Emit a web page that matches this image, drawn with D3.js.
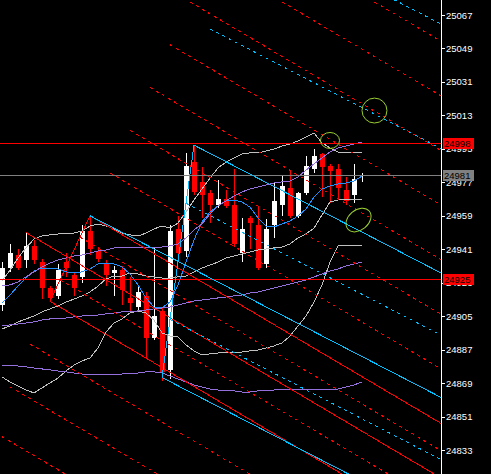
<!DOCTYPE html>
<html><head><meta charset="utf-8">
<script src="https://cdn.jsdelivr.net/npm/d3@7"></script>
<style>html,body{margin:0;padding:0;background:#000;}svg{display:block;}</style>
</head><body><div id="chart"></div>
<script>
// ---------- DATA ----------
const openP  = [24911,24931,24938,24935,24943,24934,24920,24916,24934,24927,24926,24951,24940,24933,24928,24930,24915,24910,24916,24893,24908,24876,24952,24940,24988,24977,24971,24965,24968,24965,24939,24958,24954,24933,24954,24965,24974,24959,24971,24984,24992,24986,24984,24973,24970,24981];
const highP  = [24934,24944,24941,24950,24946,24936,24921,24933,24939,24929,24954,24959,24942,24935,24932,24932,24926,24921,24918,24942,24910,24954,24959,24993,24997,24985,24973,24978,24973,24984,24958,24959,24964,24957,24977,24981,24983,24972,24991,24995,24993,24987,24987,24980,24987,24982];
const lowP   = [24908,24929,24930,24931,24933,24914,24913,24914,24926,24916,24923,24938,24934,24921,24916,24911,24908,24907,24882,24892,24870,24871,24936,24937,24970,24958,24955,24963,24963,24942,24934,24941,24930,24931,24947,24959,24958,24958,24970,24982,24969,24966,24968,24965,24966,24977];
const closeP = [24931,24939,24931,24943,24935,24920,24915,24930,24931,24920,24951,24941,24936,24927,24930,24919,24912,24918,24893,24905,24875,24951,24939,24986,24972,24970,24965,24968,24964,24944,24952,24955,24931,24952,24967,24975,24959,24971,24986,24991,24985,24983,24974,24967,24979,24981];

// blue moving average
const maBlue = [24912.1,24916.4,24921.2,24925.5,24929.3,24930.9,24930.9,24930.4,24928.8,24928.2,24928.8,24930.4,24933.1,24933.6,24933.1,24931.5,24927.7,24921.8,24914.8,24909.9,24909.4,24912.6,24921.8,24934.1,24946.0,24955.7,24961.0,24964.3,24967.0,24967.5,24966.4,24963.7,24957.8,24953.5,24953.0,24954.6,24956.2,24958.9,24962.7,24969.1,24973.4,24975.0,24976.1,24976.6,24977.7,24980.4];
// gray Bollinger band (upper / middle / lower)
const bbUpper = [24923.9,24929.8,24936.3,24941.7,24946.5,24948.1,24948.7,24949.2,24949.7,24949.7,24950.8,24953.5,24954.6,24953.5,24951.9,24949.7,24948.7,24948.1,24949.7,24951.9,24953.5,24952.4,24955.1,24961.0,24967.5,24973.4,24979.3,24984.7,24987.9,24990.1,24992.2,24992.8,24992.8,24993.9,24994.9,24996.5,24997.6,24999.2,25001.4,25003.5,24998.2,24995.5,24993.3,24992.8,24992.8,24992.8];
const bbMiddle = [24898.1,24899.7,24901.9,24903.5,24905.1,24907.3,24908.9,24910.5,24912.6,24914.2,24915.9,24918.0,24921.2,24925.0,24926.6,24926.6,24928.2,24927.7,24926.6,24926.1,24925.5,24925.5,24926.1,24926.6,24928.8,24930.9,24932.5,24934.1,24936.3,24937.4,24938.4,24939.5,24940.6,24941.1,24941.7,24942.2,24943.8,24947.1,24949.2,24952.4,24959.4,24966.4,24967.5,24968.0,24968.0,24968.0];
const bbLower = [24872.3,24869.6,24867.4,24865.3,24863.7,24866.4,24869.1,24871.7,24875.5,24878.7,24880.9,24882.5,24887.9,24896.5,24901.3,24903.5,24906.7,24907.8,24906.7,24902.9,24896.0,24894.3,24893.8,24889.5,24886.3,24884.1,24884.7,24885.2,24885.2,24885.7,24885.7,24886.3,24886.8,24887.9,24889.0,24890.6,24894.3,24899.7,24905.1,24912.6,24921.8,24934.1,24942.8,24942.8,24942.8,24942.8];
// purple Bollinger band (upper / middle / lower)
const purpleUpper = [24921.2,24921.8,24923.4,24926.1,24928.8,24931.5,24933.6,24935.2,24936.3,24937.4,24937.9,24939.0,24940.1,24940.6,24941.7,24941.7,24941.7,24942.2,24942.2,24942.2,24942.2,24942.8,24943.8,24947.1,24951.4,24954.6,24960.0,24964.3,24967.0,24969.6,24971.8,24973.4,24974.5,24975.6,24976.6,24977.2,24977.7,24979.9,24983.6,24986.9,24990.1,24993.3,24995.5,24996.5,24997.6,24998.7];
const purpleMid = [24899.7,24900.3,24900.8,24901.3,24901.9,24902.9,24903.5,24904.0,24904.0,24904.6,24905.1,24905.6,24905.6,24906.2,24906.7,24907.3,24907.3,24907.8,24908.3,24908.9,24909.4,24909.9,24911.0,24912.1,24913.2,24913.7,24914.2,24914.8,24915.3,24915.9,24916.4,24917.5,24918.0,24919.1,24920.1,24921.2,24922.3,24923.4,24924.5,24926.1,24927.7,24929.3,24930.4,24932.0,24933.1,24934.1];
const purpleLower = [24878.7,24878.2,24878.2,24877.7,24877.1,24876.6,24876.1,24875.5,24875.0,24874.4,24873.9,24873.4,24873.4,24873.4,24873.4,24873.9,24873.9,24874.4,24875.0,24875.0,24874.4,24872.8,24871.2,24869.6,24868.0,24866.9,24865.8,24865.3,24864.8,24864.8,24864.2,24864.2,24864.8,24864.8,24865.3,24865.3,24865.3,24865.3,24865.3,24865.3,24865.3,24865.3,24865.8,24866.9,24868.0,24869.6];

const tickValues = [25067,25049,25031,25013,24995,24977,24959,24941,24923,24905,24887,24869,24851,24833];
const levelPrices = [24998, 24981, 24925];
const levelNames  = ["red", "gray", "red"];

// Andrews pitchforks: anchor points [bar index, price]
const redForkAnchors  = [[3,24950],[6,24913],[11,24959]];
const cyanForkAnchors = [[11,24959],[20,24872],[24,24997]];
const redDashLevels  = [-0.25,-0.75,0.5,1,1.5,2,2.5,3,3.5,-1.5,-2,-2.5,-3];
const cyanDashLevels = [-0.25,-0.75,0.5,1];

// ellipse objects: [centre bar, centre price, half-width bars, half-height price, rotation deg]
const ellipseObjs = [[46.56,25015.6,1.56,6.7,0],[41.0,24999.5,1.19,4.3,0],[44.56,24956.7,1.75,5.4,-40]];

// ---------- CHART ----------
const W = 491, H = 474, axisX = 441;
const RED = "#ff0000", CYAN = "#00bfff", GRAY = "#c0c0c0", BLUE = "#1e90ff", PURPLE = "#9370db", GREEN = "#9acd32";
const svg = d3.select("#chart").append("svg").attr("width", W).attr("height", H)
  .style("background", "#000");

const x = d3.scaleLinear().domain([0, 45]).range([2, 362]);
const y = d3.scaleLinear().domain([24833, 25067]).range([450, 15]);

svg.append("clipPath").attr("id","plot").append("rect").attr("x",0).attr("y",0).attr("width",axisX).attr("height",H);
const plot = svg.append("g").attr("clip-path","url(#plot)").attr("shape-rendering","crispEdges");

// candles
const bars = d3.range(openP.length).map(i => ({i, o:openP[i], h:highP[i], l:lowP[i], c:closeP[i]}));
const cg = plot.append("g");
bars.forEach(b => {
  const col = b.c >= b.o ? "#ffffff" : RED;
  const xc = Math.round(x(b.i));
  cg.append("rect").attr("x", xc).attr("y", Math.round(y(b.h))).attr("width",1)
    .attr("height", Math.max(1, Math.round(y(b.l)) - Math.round(y(b.h)))).attr("fill", col);
  const top = Math.round(y(Math.max(b.o,b.c))), bot = Math.round(y(Math.min(b.o,b.c)));
  cg.append("rect").attr("x", xc-2).attr("y", top).attr("width",5)
    .attr("height", Math.max(1, bot-top)).attr("fill", col);
});

// indicator lines
const line = d3.line().x((d,i)=>x(i)).y(d=>y(d));
[[bbUpper,GRAY],[bbMiddle,GRAY],[bbLower,GRAY],[maBlue,BLUE],[purpleUpper,PURPLE],[purpleMid,PURPLE],[purpleLower,PURPLE]]
  .forEach(([arr,col]) => plot.append("path").datum(arr).attr("d", line).attr("fill","none").attr("stroke",col).attr("stroke-width",1));

// horizontal levels
levelPrices.forEach((p,k) => {
  plot.append("line").attr("x1",0).attr("x2",axisX).attr("y1",Math.round(y(p))+0.5).attr("y2",Math.round(y(p))+0.5)
    .attr("stroke", levelNames[k]==="red" ? RED : "#808080").attr("stroke-width",1);
});

// pitchforks
function drawFork(anchors, color, dashLevels) {
  const [P0,P1,P2] = anchors;
  const M = [(P1[0]+P2[0])/2, (P1[1]+P2[1])/2];
  const slope = (M[1]-P0[1])/(M[0]-P0[0]);
  const tEnd = 70;
  const seg = (a, dashed) => plot.append("line")
    .attr("x1", x(a[0])).attr("y1", y(a[1]))
    .attr("x2", x(tEnd)).attr("y2", y(a[1] + slope*(tEnd-a[0])))
    .attr("stroke", color).attr("stroke-width",1)
    .attr("stroke-dasharray", dashed ? "3,4" : null);
  seg(P0,false); seg(P1,false); seg(P2,false);
  plot.append("line").attr("x1",x(P1[0])).attr("y1",y(P1[1])).attr("x2",x(P2[0])).attr("y2",y(P2[1]))
    .attr("stroke",color).attr("stroke-width",1);
  dashLevels.forEach(k => {
    seg([P2[0] + k*(P2[0]-P1[0]), P2[1] + k*(P2[1]-P1[1])], true);
  });
}
drawFork(redForkAnchors, RED, redDashLevels);
drawFork(cyanForkAnchors, CYAN, cyanDashLevels);

// ellipses
ellipseObjs.forEach(([t,p,rt,rp,rot]) => {
  const cx = x(t), cy = y(p);
  plot.append("ellipse").attr("cx",cx).attr("cy",cy)
    .attr("rx", x(t+rt)-cx).attr("ry", y(p-rp)-cy)
    .attr("transform", `rotate(${rot},${cx},${cy})`)
    .attr("fill","none").attr("stroke",GREEN).attr("stroke-width",1).attr("shape-rendering","auto");
});

// price axis
const axisG = svg.append("g").attr("transform",`translate(${axisX},0)`)
  .call(d3.axisRight(y).tickValues(tickValues).tickSize(4).tickPadding(1).tickFormat(d3.format("d")));
axisG.select(".domain").remove();
axisG.selectAll(".tick line").attr("stroke","#fff").attr("shape-rendering","crispEdges");
axisG.selectAll(".tick text").attr("fill","#fff").style("font-family","'Liberation Sans', Arial, sans-serif").style("font-size","9.5px");
svg.append("line").attr("x1",axisX+0.5).attr("x2",axisX+0.5).attr("y1",0).attr("y2",H).attr("stroke","#fff").attr("shape-rendering","crispEdges");

// price labels
levelPrices.forEach((p,k) => {
  const cy = Math.round(y(p));
  svg.append("rect").attr("x",443).attr("y",cy-5).attr("width",31).attr("height",11)
    .attr("fill", levelNames[k]==="red" ? RED : "#808080");
  svg.append("text").attr("x",444).attr("y",cy+4).text(d3.format("d")(p))
    .attr("fill","#000").style("font-family","'Liberation Sans', Arial, sans-serif").style("font-size","9.5px");
});
</script></body></html>
